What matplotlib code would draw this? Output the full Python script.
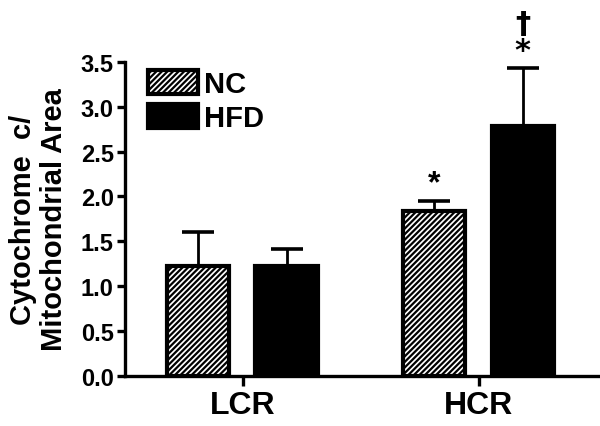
import matplotlib
matplotlib.use("Agg")
import matplotlib.pyplot as plt
import numpy as np

plt.rcParams['font.family'] = ['Liberation Sans', 'DejaVu Sans']
plt.rcParams['font.weight'] = 'bold'
plt.rcParams['hatch.linewidth'] = 1.6

categories = ["LCR", "HCR"]
series = ["NC", "HFD"]
nc_means = [1.23, 1.84]
nc_err = [0.37, 0.11]
hfd_means = [1.22, 2.78]
hfd_err = [0.19, 0.65]
yticks = [0.0, 0.5, 1.0, 1.5, 2.0, 2.5, 3.0, 3.5]

fig = plt.figure(figsize=(6, 4.27), dpi=100)
ax = fig.add_axes([0.208, 0.117, 0.789, 0.736])

x = np.arange(len(categories))
w = 0.263
off_nc = -0.19
off_hfd = 0.185

ax.bar(x + off_nc, nc_means, w, facecolor='white', edgecolor='black',
       hatch='//////', linewidth=3.0, label=series[0], zorder=2)
ax.bar(x + off_hfd, hfd_means, w, facecolor='black', edgecolor='black',
       linewidth=3.0, label=series[1], zorder=2)

ax.errorbar(x + off_nc, nc_means, yerr=[np.zeros(len(nc_err)), nc_err], fmt='none',
            ecolor='black', elinewidth=2.0, capsize=11.5, capthick=2.6, zorder=1)
ax.errorbar(x + off_hfd, hfd_means, yerr=[np.zeros(len(hfd_err)), hfd_err], fmt='none',
            ecolor='black', elinewidth=2.0, capsize=11.5, capthick=2.6, zorder=1)

# significance marks
ax.text(x[1] + off_nc, nc_means[1] + nc_err[1] + 0.03, "*", ha='center', va='bottom',
        fontsize=23, fontweight='bold', clip_on=False)
ax.text(x[1] + off_hfd, hfd_means[1] + hfd_err[1] + 0.03, "†\n*", ha='center', va='bottom',
        fontsize=22, fontweight='bold', family=['DejaVu Sans'], linespacing=0.95,
        clip_on=False)

ax.set_xlim(-0.5, 1.505)
ax.set_ylim(0, 3.5)
ax.set_yticks(yticks)
ax.set_yticklabels([f"{t:.1f}" for t in yticks], fontsize=17, fontweight='bold')
ax.set_xticks(x)
ax.set_xticklabels(categories, fontsize=23, fontweight='bold')

for s in ['top', 'right']:
    ax.spines[s].set_visible(False)
for s in ['left', 'bottom']:
    ax.spines[s].set_linewidth(2.4)
ax.tick_params(axis='y', length=6, width=2.4, pad=2)
ax.tick_params(axis='x', length=7, width=2.4, pad=3)

ax.set_ylabel("Cytochrome  c/\nMitochondrial Area", fontsize=21, fontweight='bold',
              linespacing=1.15, labelpad=9)

leg = ax.legend(loc='upper left', bbox_to_anchor=(0.05, 0.975), frameon=False,
                fontsize=21, handlelength=1.71, handleheight=0.89, handletextpad=0.2,
                labelspacing=0.2, borderpad=0, borderaxespad=0)
for t in leg.get_texts():
    t.set_fontweight('bold')

fig.savefig("out.png", dpi=100)
